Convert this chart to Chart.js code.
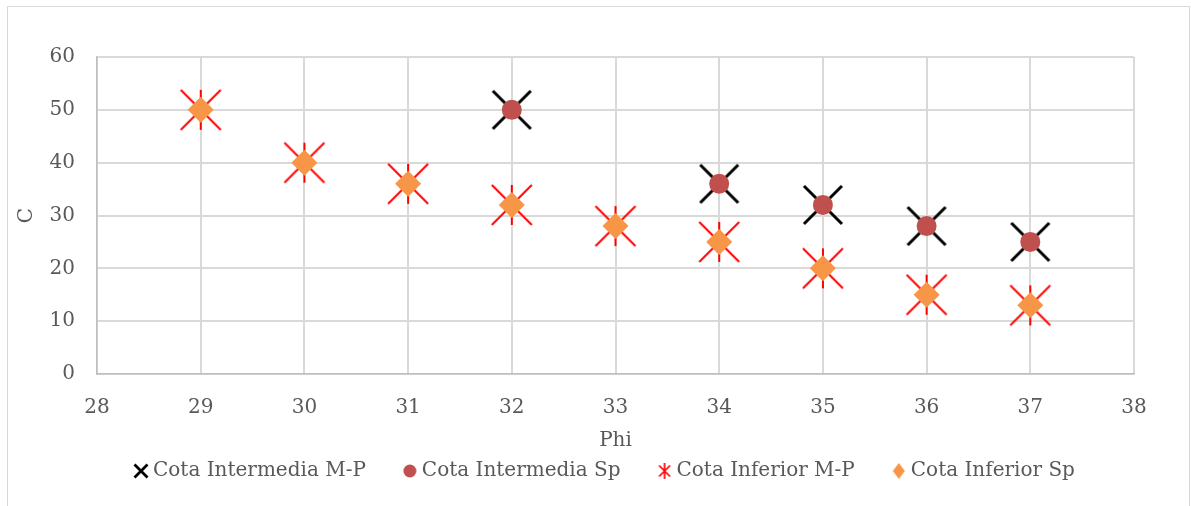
<!DOCTYPE html>
<html>
<head>
<meta charset="utf-8">
<title>C vs Phi</title>
<script src="https://cdn.jsdelivr.net/npm/chart.js@4/dist/chart.umd.min.js"></script>
<style>
  html, body { margin: 0; padding: 0; background: #ffffff; }
  #wrap { position: relative; width: 1191px; height: 506px; }
</style>
</head>
<body>
<div id="wrap"><canvas id="chart"></canvas></div>
<script>
// Data
const phiIntermedia = [32, 34, 35, 36, 37];
const cIntermediaMP = [50, 36, 32, 28, 25];
const cIntermediaSp = [50, 36, 32, 28, 25];

const phiInferior = [29, 30, 31, 32, 33, 34, 35, 36, 37];
const cInferiorMP = [50, 40, 36, 32, 28, 25, 20, 15, 13];
const cInferiorSp = [50, 40, 36, 32, 28, 25, 20, 15, 13];

const seriesNames = ['Cota Intermedia M-P', 'Cota Intermedia Sp', 'Cota Inferior M-P', 'Cota Inferior Sp'];
const xTicks = [28, 38, 1];
const yTicks = [0, 60, 10];

const textColor = '#595959';
const fontFamily = '"DejaVu Serif", "Liberation Serif", serif';

const toPoints = (xs, ys) => xs.map((x, i) => ({ x: x, y: ys[i] }));

// Marker images
const makeCanvas = (w, h) => {
    const c = document.createElement('canvas');
    c.width = w;
    c.height = h;
    return c;
};

const drawCross = (ctx, cx, cy, r, width, color) => {
    ctx.strokeStyle = color;
    ctx.lineWidth = width;
    ctx.beginPath();
    ctx.moveTo(cx - r, cy - r); ctx.lineTo(cx + r, cy + r);
    ctx.moveTo(cx + r, cy - r); ctx.lineTo(cx - r, cy + r);
    ctx.stroke();
};

const drawStar = (ctx, cx, cy, r, rv, width, color) => {
    drawCross(ctx, cx, cy, r, width, color);
    ctx.beginPath();
    ctx.moveTo(cx, cy - rv); ctx.lineTo(cx, cy + rv);
    ctx.stroke();
};

const drawDot = (ctx, cx, cy, r, color) => {
    ctx.fillStyle = color;
    ctx.beginPath();
    ctx.arc(cx, cy, r, 0, Math.PI * 2);
    ctx.fill();
};

const drawDiamond = (ctx, cx, cy, rw, rh, color) => {
    ctx.fillStyle = color;
    ctx.beginPath();
    ctx.moveTo(cx, cy - rh);
    ctx.lineTo(cx + rw, cy);
    ctx.lineTo(cx, cy + rh);
    ctx.lineTo(cx - rw, cy);
    ctx.closePath();
    ctx.fill();
};

// chart markers
const crossImg = makeCanvas(46, 46);
drawCross(crossImg.getContext('2d'), 23, 23, 19, 3, '#000000');
const starImg = makeCanvas(46, 46);
drawStar(starImg.getContext('2d'), 23, 23, 20, 20, 2, '#ff0000');

// legend markers (wide canvas, marker sits near the right so the text follows it)
const LW = 56, LH = 22, LX = 44, LY = 11;
const legendCross = makeCanvas(LW, LH);
drawCross(legendCross.getContext('2d'), LX, LY, 6.5, 2.8, '#000000');
const legendDot = makeCanvas(LW, LH);
drawDot(legendDot.getContext('2d'), LX, LY, 6.5, '#c0504d');
const legendStar = makeCanvas(LW, LH);
drawStar(legendStar.getContext('2d'), LX, LY, 5.5, 8, 1.7, '#ff0000');
const legendDiamond = makeCanvas(LW, LH);
drawDiamond(legendDiamond.getContext('2d'), LX, LY, 6, 8, '#f79646');

// Drawing order: the first dataset ends up on top
const datasets = [
    {
        label: seriesNames[1],
        data: toPoints(phiIntermedia, cIntermediaSp),
        pointStyle: 'circle',
        pointRadius: 10,
        pointHoverRadius: 10,
        backgroundColor: '#c0504d',
        borderColor: '#c0504d',
        borderWidth: 0
    },
    {
        label: seriesNames[0],
        data: toPoints(phiIntermedia, cIntermediaMP),
        pointStyle: crossImg,
        backgroundColor: '#000000',
        borderColor: '#000000'
    },
    {
        label: seriesNames[3],
        data: toPoints(phiInferior, cInferiorSp),
        pointStyle: 'rectRot',
        pointRadius: 13,
        pointHoverRadius: 13,
        backgroundColor: '#f79646',
        borderColor: '#f79646',
        borderWidth: 0
    },
    {
        label: seriesNames[2],
        data: toPoints(phiInferior, cInferiorMP),
        pointStyle: starImg,
        backgroundColor: '#ff0000',
        borderColor: '#ff0000'
    }
];

// Legend order as in the picture
const legendOrder = [
    { index: 1, img: legendCross },
    { index: 0, img: legendDot },
    { index: 3, img: legendStar },
    { index: 2, img: legendDiamond }
];

const frameBorder = {
    id: 'frameBorder',
    beforeDraw(chart) {
        const ctx = chart.ctx;
        ctx.save();
        ctx.fillStyle = '#ffffff';
        ctx.fillRect(0, 0, chart.width, chart.height);
        ctx.strokeStyle = '#d9d9d9';
        ctx.lineWidth = 1;
        ctx.strokeRect(7.5, 6.5, 1182, 530);
        ctx.restore();
    }
};

new Chart(document.getElementById('chart'), {
    type: 'scatter',
    data: { datasets: datasets },
    plugins: [frameBorder],
    options: {
        responsive: true,
        maintainAspectRatio: false,
        animation: false,
        events: [],
        layout: {
            padding: { left: 9, right: 57, top: 57, bottom: 15 }
        },
        scales: {
            x: {
                type: 'linear',
                min: xTicks[0],
                max: xTicks[1],
                afterFit: (scale) => { scale.height = 77; },
                ticks: {
                    stepSize: xTicks[2],
                    color: textColor,
                    padding: 22,
                    font: { family: fontFamily, size: 20 }
                },
                grid: {
                    color: '#d9d9d9',
                    lineWidth: 2,
                    drawTicks: false
                },
                border: { color: '#bfbfbf', width: 1.5 },
                title: {
                    display: true,
                    text: 'Phi',
                    color: textColor,
                    padding: { top: 7, bottom: -2 },
                    font: { family: fontFamily, size: 20 }
                }
            },
            y: {
                type: 'linear',
                min: yTicks[0],
                max: yTicks[1],
                afterFit: (scale) => { scale.width = 88; },
                ticks: {
                    stepSize: yTicks[2],
                    color: textColor,
                    padding: 22,
                    font: { family: fontFamily, size: 20 }
                },
                grid: {
                    color: '#d9d9d9',
                    lineWidth: 2,
                    drawTicks: false
                },
                border: { color: '#bfbfbf', width: 1.5 },
                title: {
                    display: true,
                    text: 'C',
                    color: textColor,
                    padding: { top: 6, bottom: 11 },
                    font: { family: fontFamily, size: 20 }
                }
            }
        },
        plugins: {
            tooltip: { enabled: false },
            legend: {
                position: 'bottom',
                align: 'start',
                fullSize: false,
                labels: {
                    usePointStyle: true,
                    pointStyleWidth: 36,
                    padding: 10,
                    color: textColor,
                    font: { family: fontFamily, size: 20 },
                    generateLabels: (chart) => legendOrder.map(item => ({
                        text: chart.data.datasets[item.index].label,
                        pointStyle: item.img,
                        fillStyle: chart.data.datasets[item.index].backgroundColor,
                        strokeStyle: chart.data.datasets[item.index].borderColor,
                        lineWidth: 0,
                        fontColor: textColor,
                        hidden: false,
                        datasetIndex: item.index
                    }))
                }
            }
        }
    }
});
</script>
</body>
</html>
